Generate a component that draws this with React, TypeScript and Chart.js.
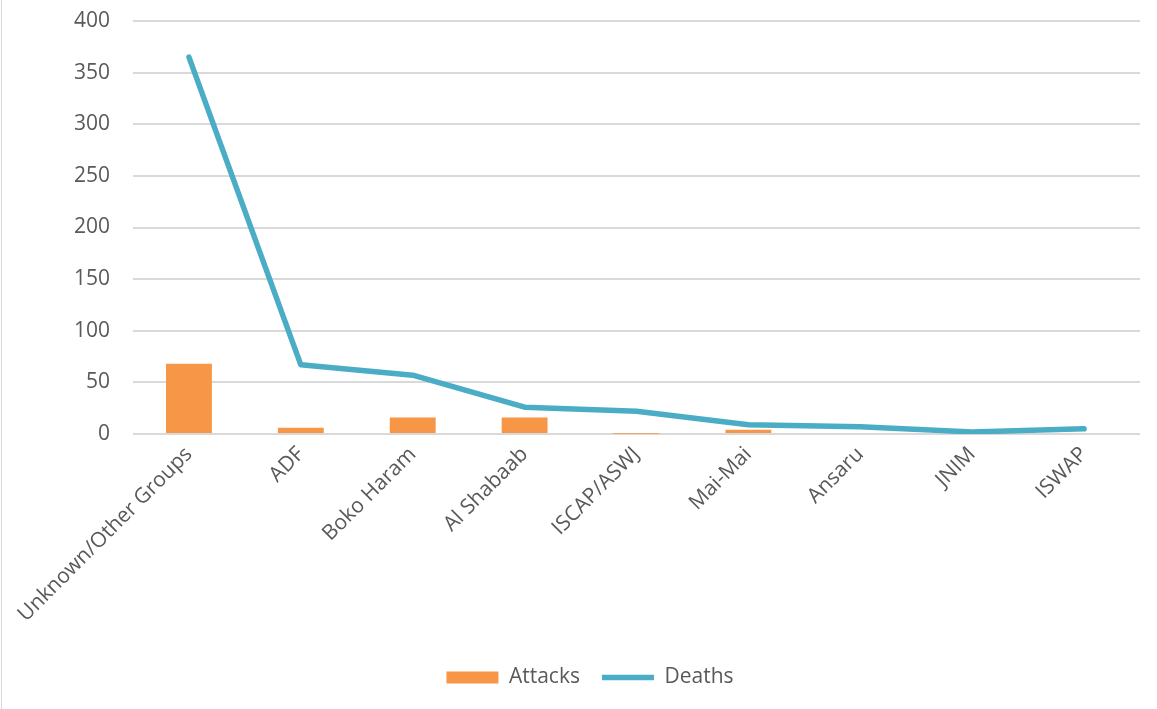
import React, { useEffect, useRef } from "react";
import { Chart, registerables } from "chart.js";

Chart.register(...registerables);

const categories = [
  "Unknown/Other Groups",
  "ADF",
  "Boko Haram",
  "Al Shabaab",
  "ISCAP/ASWJ",
  "Mai-Mai",
  "Ansaru",
  "JNIM",
  "ISWAP",
];
const attacks = [68, 6, 16, 16, 0.3, 4, 1, 0, 1];
const deaths = [365, 67, 57, 26, 22, 9, 7, 2, 5];
const yTicks = [0, 50, 100, 150, 200, 250, 300, 350, 400];

const FONT = "'Open Sans', sans-serif";
const TEXT = "#595959";

export default function App() {
  const ref = useRef<HTMLCanvasElement | null>(null);

  useEffect(() => {
    document.body.style.margin = "0";
    const ctx = ref.current!;
    const shiftLegend = {
      id: "shiftLegend",
      afterLayout(chart: any) {
        const lg = chart.legend;
        if (lg) {
          lg.left += 20;
          lg.right += 20;
        }
      },
    };
    const chart = new Chart(ctx, {
      data: {
        labels: categories,
        datasets: [
          {
            type: "line",
            label: "Deaths",
            data: deaths,
            borderColor: "#4BACC6",
            backgroundColor: "#4BACC6",
            borderWidth: 5.5,
            pointRadius: 0,
            pointHoverRadius: 0,
            tension: 0,
            borderCapStyle: "round",
            borderJoinStyle: "round",
            pointStyle: "line",
            order: 0,
          } as any,
          {
            type: "bar",
            label: "Attacks",
            data: attacks,
            backgroundColor: "#F79646",
            borderWidth: 0,
            categoryPercentage: 1,
            barPercentage: 0.41,
            pointStyle: "rect",
            order: 1,
          } as any,
        ],
      },
      options: {
        animation: false,
        responsive: false,
        maintainAspectRatio: false,
        layout: { padding: { top: 21, right: 17, left: 0, bottom: 11 } },
        scales: {
          x: {
            grid: { display: false, drawTicks: false },
            border: { display: false },
            ticks: {
              color: TEXT,
              font: { family: FONT, size: 21 },
              maxRotation: 45,
              minRotation: 45,
              padding: 8,
              autoSkip: false,
            },
            afterFit: (s: any) => {
              s.height = 211;
            },
          },
          y: {
            min: 0,
            max: 400,
            afterBuildTicks: (s: any) => {
              s.ticks = yTicks.map((v) => ({ value: v }));
            },
            grid: {
              color: "#d9d9d9",
              lineWidth: 2,
              drawTicks: true,
              tickLength: 20,
              tickColor: "rgba(0,0,0,0)",
            },
            border: { display: false },
            ticks: {
              color: TEXT,
              font: { family: FONT, size: 21 },
              padding: 3,
            },
            afterFit: (s: any) => {
              s.width = 133;
            },
          },
        },
        plugins: {
          legend: {
            position: "bottom",
            reverse: true,
            labels: {
              usePointStyle: true,
              pointStyleWidth: 52,
              boxHeight: 12,
              color: TEXT,
              font: { family: FONT, size: 21 },
              padding: 22,
            },
          },
          tooltip: { enabled: false },
        },
      } as any,
      plugins: [shiftLegend],
    });
    return () => chart.destroy();
  }, []);

  return (
    <div
      style={{
        position: "fixed",
        left: 0,
        top: 0,
        width: 1157,
        height: 709,
        background: "#fff",
      }}
    >
      <div
        style={{
          position: "absolute",
          left: 1,
          top: 0,
          width: 1,
          height: 709,
          background: "#d9d9d9",
        }}
      />
      <canvas ref={ref} width={1157} height={709} style={{ display: "block" }} />
    </div>
  );
}
